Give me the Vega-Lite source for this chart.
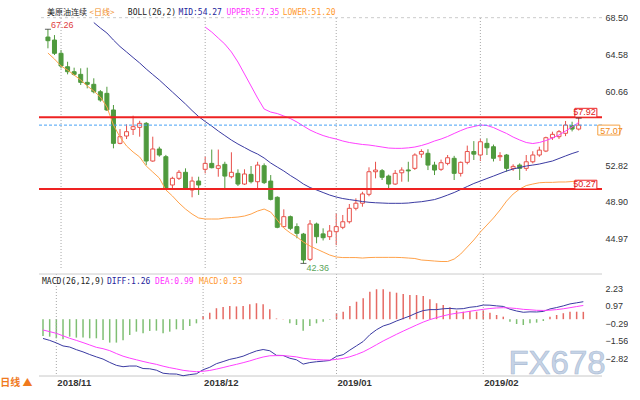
{
  "$schema": "https://vega.github.io/schema/vega-lite/v6.json",
  "padding": 0,
  "background": "white",
  "bounds": "flush",
  "spacing": 6,
  "config": {
    "view": {"stroke": null},
    "font": "Liberation Sans",
    "axis": {"labelFont": "Liberation Sans", "labelFontSize": 9, "labelColor": "#333333", "ticks": false, "domain": false, "grid": false}
  },
  "datasets": {
    "k": [
      {"i":0,"d":"2018-10-30","o":66.44,"h":67.26,"l":65.24,"c":66.05,"lo":64.74,"diff":-1.39,"dea":-0.78,"macd":-1.21},
      {"i":1,"d":"2018-10-31","o":66.12,"h":66.65,"l":64.53,"c":64.71,"lo":64.10,"diff":-1.53,"dea":-0.90,"macd":-1.26},
      {"i":2,"d":"2018-11-01","o":64.71,"h":65.06,"l":63.11,"c":63.36,"lo":63.36,"diff":-1.71,"dea":-1.02,"macd":-1.38},
      {"i":3,"d":"2018-11-02","o":63.28,"h":63.81,"l":62.47,"c":62.75,"lo":62.93,"diff":-1.93,"dea":-1.20,"macd":-1.45},
      {"i":4,"d":"2018-11-05","o":62.75,"h":63.18,"l":62.32,"c":62.47,"lo":62.40,"diff":-2.01,"dea":-1.38,"macd":-1.26},
      {"i":5,"d":"2018-11-06","o":62.47,"h":63.11,"l":61.34,"c":61.62,"lo":61.87,"diff":-2.20,"dea":-1.53,"macd":-1.33},
      {"i":6,"d":"2018-11-07","o":61.62,"h":63.18,"l":60.98,"c":61.41,"lo":61.23,"diff":-2.36,"dea":-1.69,"macd":-1.33},
      {"i":7,"d":"2018-11-08","o":61.41,"h":62.05,"l":60.45,"c":60.62,"lo":60.70,"mid":67.98,"diff":-2.55,"dea":-1.86,"macd":-1.38},
      {"i":8,"d":"2018-11-09","o":60.62,"h":60.80,"l":59.56,"c":59.74,"lo":60.06,"mid":67.40,"diff":-2.72,"dea":-2.03,"macd":-1.38},
      {"i":9,"d":"2018-11-12","o":60.45,"h":61.15,"l":58.57,"c":58.68,"lo":59.00,"mid":66.87,"diff":-2.88,"dea":-2.13,"macd":-1.50},
      {"i":10,"d":"2018-11-13","o":58.68,"h":59.21,"l":54.60,"c":55.13,"lo":57.08,"mid":66.12,"diff":-3.12,"dea":-2.27,"macd":-1.69},
      {"i":11,"d":"2018-11-14","o":55.13,"h":56.65,"l":55.03,"c":55.84,"lo":55.80,"mid":65.43,"diff":-3.33,"dea":-2.48,"macd":-1.69},
      {"i":12,"d":"2018-11-15","o":55.91,"h":57.15,"l":55.59,"c":56.37,"lo":54.85,"mid":64.85,"diff":-3.43,"dea":-2.67,"macd":-1.52},
      {"i":13,"d":"2018-11-16","o":56.62,"h":58.07,"l":56.02,"c":56.90,"lo":54.21,"mid":64.26,"diff":-3.38,"dea":-2.81,"macd":-1.14},
      {"i":14,"d":"2018-11-19","o":56.83,"h":57.53,"l":55.84,"c":57.26,"lo":53.68,"mid":63.68,"diff":-3.38,"dea":-2.93,"macd":-0.90},
      {"i":15,"d":"2018-11-20","o":57.26,"h":57.40,"l":52.82,"c":53.25,"lo":52.72,"mid":63.04,"diff":-3.56,"dea":-3.05,"macd":-1.02},
      {"i":16,"d":"2018-11-21","o":53.25,"h":55.84,"l":53.17,"c":54.53,"lo":52.08,"mid":62.45,"diff":-3.58,"dea":-3.16,"macd":-0.85},
      {"i":17,"d":"2018-11-22","o":54.53,"h":54.77,"l":53.71,"c":53.89,"lo":51.44,"mid":61.87,"diff":-3.68,"dea":-3.26,"macd":-0.83},
      {"i":18,"d":"2018-11-23","o":53.71,"h":53.90,"l":50.17,"c":50.35,"lo":50.17,"mid":61.23,"diff":-3.90,"dea":-3.39,"macd":-1.02},
      {"i":19,"d":"2018-11-26","o":50.70,"h":51.58,"l":50.17,"c":51.41,"lo":49.53,"mid":60.59,"diff":-3.95,"dea":-3.50,"macd":-0.90},
      {"i":20,"d":"2018-11-27","o":51.41,"h":52.29,"l":51.23,"c":52.05,"lo":48.78,"mid":59.95,"diff":-3.96,"dea":-3.59,"macd":-0.73},
      {"i":21,"d":"2018-11-28","o":52.05,"h":52.47,"l":50.17,"c":50.27,"lo":48.14,"mid":59.31,"diff":-4.08,"dea":-3.69,"macd":-0.78},
      {"i":22,"d":"2018-11-29","o":50.17,"h":51.58,"l":49.39,"c":51.12,"lo":47.61,"mid":58.62,"diff":-4.00,"dea":-3.75,"macd":-0.49},
      {"i":23,"d":"2018-11-30","o":51.12,"h":51.58,"l":49.64,"c":50.70,"lo":47.19,"mid":57.98,"diff":-3.94,"dea":-3.79,"macd":-0.30},
      {"i":24,"d":"2018-12-03","o":52.37,"h":53.71,"l":51.94,"c":53.00,"lo":47.08,"mid":57.45,"up":67.50,"diff":-3.65,"dea":-3.76,"macd":0.23},
      {"i":25,"d":"2018-12-04","o":53.00,"h":54.47,"l":52.47,"c":52.54,"lo":47.08,"mid":56.97,"up":66.97,"diff":-3.47,"dea":-3.70,"macd":0.47},
      {"i":26,"d":"2018-12-05","o":52.47,"h":54.47,"l":51.58,"c":52.75,"lo":47.08,"mid":56.44,"up":66.33,"diff":-3.21,"dea":-3.60,"macd":0.79},
      {"i":27,"d":"2018-12-06","o":52.90,"h":53.17,"l":50.17,"c":51.65,"lo":47.19,"mid":55.96,"up":65.69,"diff":-3.06,"dea":-3.49,"macd":0.87},
      {"i":28,"d":"2018-12-07","o":51.58,"h":54.18,"l":51.41,"c":52.05,"lo":47.24,"mid":55.48,"up":64.85,"diff":-2.90,"dea":-3.37,"macd":0.95},
      {"i":29,"d":"2018-12-10","o":51.94,"h":52.37,"l":50.59,"c":50.80,"lo":47.29,"mid":55.06,"up":63.78,"diff":-2.80,"dea":-3.26,"macd":0.92},
      {"i":30,"d":"2018-12-11","o":50.80,"h":52.37,"l":50.70,"c":51.87,"lo":47.40,"mid":54.69,"up":62.51,"diff":-2.67,"dea":-3.14,"macd":0.95},
      {"i":31,"d":"2018-12-12","o":51.83,"h":52.72,"l":50.87,"c":51.05,"lo":47.61,"mid":54.31,"up":61.23,"diff":-2.47,"dea":-3.01,"macd":1.08},
      {"i":32,"d":"2018-12-13","o":51.05,"h":53.17,"l":50.35,"c":52.82,"lo":47.93,"mid":53.99,"up":59.95,"diff":-2.29,"dea":-2.86,"macd":1.15},
      {"i":33,"d":"2018-12-14","o":52.75,"h":53.00,"l":50.80,"c":50.95,"lo":48.14,"mid":53.57,"up":58.78,"diff":-2.19,"dea":-2.73,"macd":1.08},
      {"i":34,"d":"2018-12-17","o":51.12,"h":51.76,"l":49.06,"c":49.17,"lo":47.82,"mid":53.04,"up":58.46,"diff":-2.28,"dea":-2.64,"macd":0.71},
      {"i":35,"d":"2018-12-18","o":49.39,"h":49.50,"l":46.10,"c":46.20,"lo":46.97,"mid":52.61,"up":58.30,"diff":-2.61,"dea":-2.63,"macd":0.05},
      {"i":36,"d":"2018-12-19","o":46.27,"h":48.11,"l":46.20,"c":47.33,"lo":46.12,"mid":52.19,"up":58.04,"diff":-2.62,"dea":-2.63,"macd":0.02},
      {"i":37,"d":"2018-12-20","o":47.33,"h":47.45,"l":45.90,"c":46.09,"lo":45.59,"mid":51.71,"up":57.77,"diff":-2.82,"dea":-2.67,"macd":-0.30},
      {"i":38,"d":"2018-12-21","o":46.27,"h":46.62,"l":45.03,"c":45.56,"lo":45.17,"mid":51.28,"up":57.40,"diff":-2.93,"dea":-2.72,"macd":-0.42},
      {"i":39,"d":"2018-12-24","o":45.48,"h":45.60,"l":42.36,"c":42.72,"lo":44.63,"mid":50.80,"up":56.97,"diff":-3.24,"dea":-2.82,"macd":-0.83},
      {"i":40,"d":"2018-12-26","o":42.79,"h":46.97,"l":42.60,"c":46.55,"lo":44.21,"mid":50.43,"up":56.55,"diff":-3.13,"dea":-2.88,"macd":-0.49},
      {"i":41,"d":"2018-12-27","o":46.55,"h":46.70,"l":44.50,"c":45.20,"lo":43.89,"mid":50.17,"up":56.23,"diff":-3.07,"dea":-2.92,"macd":-0.30},
      {"i":42,"d":"2018-12-28","o":45.50,"h":46.09,"l":44.80,"c":45.09,"lo":43.57,"mid":49.90,"up":55.96,"diff":-3.03,"dea":-2.94,"macd":-0.18},
      {"i":43,"d":"2018-12-31","o":45.20,"h":46.44,"l":44.85,"c":45.80,"lo":43.25,"mid":49.63,"up":55.75,"diff":-2.98,"dea":-2.95,"macd":-0.05},
      {"i":44,"d":"2019-01-02","o":45.73,"h":47.69,"l":44.30,"c":46.27,"lo":43.04,"mid":49.42,"up":55.59,"diff":-2.68,"dea":-2.90,"macd":0.43},
      {"i":45,"d":"2019-01-03","o":46.20,"h":47.51,"l":46.00,"c":46.79,"lo":42.98,"mid":49.26,"up":55.38,"diff":-2.56,"dea":-2.83,"macd":0.54},
      {"i":46,"d":"2019-01-04","o":46.79,"h":48.68,"l":46.60,"c":48.22,"lo":42.98,"mid":49.15,"up":55.22,"diff":-2.23,"dea":-2.71,"macd":0.95},
      {"i":47,"d":"2019-01-07","o":48.22,"h":49.28,"l":48.00,"c":48.76,"lo":42.98,"mid":49.05,"up":55.11,"diff":-1.92,"dea":-2.55,"macd":1.26},
      {"i":48,"d":"2019-01-08","o":48.76,"h":49.98,"l":48.39,"c":49.75,"lo":42.93,"mid":48.94,"up":55.01,"diff":-1.61,"dea":-2.36,"macd":1.51},
      {"i":49,"d":"2019-01-09","o":49.71,"h":52.58,"l":49.50,"c":52.11,"lo":42.98,"mid":48.86,"up":54.95,"diff":-1.12,"dea":-2.11,"macd":1.98},
      {"i":50,"d":"2019-01-10","o":52.11,"h":53.17,"l":51.41,"c":52.29,"lo":43.00,"mid":48.81,"up":54.85,"diff":-0.76,"dea":-1.84,"macd":2.16},
      {"i":51,"d":"2019-01-11","o":52.22,"h":52.40,"l":51.23,"c":51.52,"lo":43.00,"mid":48.78,"up":54.74,"diff":-0.49,"dea":-1.57,"macd":2.16},
      {"i":52,"d":"2019-01-14","o":51.65,"h":51.80,"l":50.35,"c":50.80,"lo":43.00,"mid":48.75,"up":54.63,"diff":-0.34,"dea":-1.33,"macd":1.98},
      {"i":53,"d":"2019-01-15","o":50.80,"h":52.29,"l":50.70,"c":51.94,"lo":43.00,"mid":48.75,"up":54.60,"diff":-0.13,"dea":-1.09,"macd":1.91},
      {"i":54,"d":"2019-01-16","o":52.00,"h":52.58,"l":51.05,"c":52.29,"lo":42.98,"mid":48.75,"up":54.60,"diff":0.05,"dea":-0.86,"macd":1.82},
      {"i":55,"d":"2019-01-17","o":52.30,"h":53.17,"l":51.05,"c":52.20,"lo":42.93,"mid":48.78,"up":54.65,"diff":0.23,"dea":-0.64,"macd":1.74},
      {"i":56,"d":"2019-01-18","o":52.47,"h":54.07,"l":52.30,"c":53.89,"lo":42.88,"mid":48.86,"up":54.74,"diff":0.45,"dea":-0.42,"macd":1.74},
      {"i":57,"d":"2019-01-21","o":53.98,"h":54.50,"l":53.60,"c":54.26,"lo":42.72,"mid":48.92,"up":54.90,"diff":0.62,"dea":-0.21,"macd":1.67},
      {"i":58,"d":"2019-01-22","o":54.07,"h":54.50,"l":52.29,"c":52.82,"lo":42.67,"mid":49.03,"up":55.11,"diff":0.69,"dea":-0.03,"macd":1.44},
      {"i":59,"d":"2019-01-23","o":52.82,"h":53.17,"l":51.76,"c":52.29,"lo":42.61,"mid":49.15,"up":55.38,"diff":0.69,"dea":0.11,"macd":1.15},
      {"i":60,"d":"2019-01-24","o":52.37,"h":53.40,"l":52.20,"c":53.07,"lo":42.56,"mid":49.37,"up":55.59,"diff":0.75,"dea":0.24,"macd":1.03},
      {"i":61,"d":"2019-01-25","o":53.00,"h":53.89,"l":52.80,"c":53.60,"lo":42.56,"mid":49.63,"up":55.86,"diff":0.78,"dea":0.35,"macd":0.86},
      {"i":62,"d":"2019-01-28","o":53.54,"h":53.80,"l":51.23,"c":51.94,"lo":42.82,"mid":49.90,"up":56.18,"diff":0.74,"dea":0.43,"macd":0.62},
      {"i":63,"d":"2019-01-29","o":51.94,"h":53.20,"l":51.60,"c":53.11,"lo":43.36,"mid":50.22,"up":56.49,"diff":0.76,"dea":0.49,"macd":0.54},
      {"i":64,"d":"2019-01-30","o":53.11,"h":54.89,"l":52.90,"c":54.26,"lo":44.10,"mid":50.54,"up":56.76,"diff":0.86,"dea":0.57,"macd":0.59},
      {"i":65,"d":"2019-01-31","o":54.26,"h":55.37,"l":53.36,"c":53.98,"lo":44.85,"mid":50.86,"up":56.92,"diff":0.91,"dea":0.64,"macd":0.54},
      {"i":66,"d":"2019-02-01","o":53.89,"h":55.59,"l":53.25,"c":55.30,"lo":45.70,"mid":51.12,"up":57.08,"diff":1.02,"dea":0.71,"macd":0.62},
      {"i":67,"d":"2019-02-04","o":55.13,"h":55.67,"l":53.89,"c":54.66,"lo":46.44,"mid":51.39,"up":57.03,"diff":1.01,"dea":0.77,"macd":0.47},
      {"i":68,"d":"2019-02-05","o":54.77,"h":55.00,"l":53.20,"c":53.54,"lo":47.19,"mid":51.65,"up":56.81,"diff":0.96,"dea":0.81,"macd":0.30},
      {"i":69,"d":"2019-02-06","o":53.71,"h":54.19,"l":53.25,"c":53.82,"lo":48.04,"mid":51.92,"up":56.49,"diff":0.92,"dea":0.83,"macd":0.18},
      {"i":70,"d":"2019-02-07","o":53.89,"h":54.00,"l":52.11,"c":52.47,"lo":48.99,"mid":52.19,"up":56.18,"diff":0.72,"dea":0.81,"macd":-0.18},
      {"i":71,"d":"2019-02-08","o":52.47,"h":52.90,"l":52.20,"c":52.68,"lo":49.74,"mid":52.40,"up":55.80,"diff":0.59,"dea":0.77,"macd":-0.35},
      {"i":72,"d":"2019-02-11","o":52.82,"h":53.00,"l":51.23,"c":52.47,"lo":50.27,"mid":52.56,"up":55.49,"diff":0.50,"dea":0.71,"macd":-0.42},
      {"i":73,"d":"2019-02-12","o":52.47,"h":53.89,"l":52.20,"c":53.17,"lo":50.64,"mid":52.72,"up":55.22,"diff":0.53,"dea":0.68,"macd":-0.30},
      {"i":74,"d":"2019-02-13","o":53.17,"h":54.29,"l":53.00,"c":53.89,"lo":50.80,"mid":52.82,"up":55.11,"diff":0.52,"dea":0.64,"macd":-0.25},
      {"i":75,"d":"2019-02-14","o":53.89,"h":54.77,"l":53.70,"c":54.41,"lo":50.94,"mid":52.93,"up":55.22,"diff":0.56,"dea":0.63,"macd":-0.13},
      {"i":76,"d":"2019-02-15","o":54.31,"h":55.84,"l":54.20,"c":55.73,"lo":50.98,"mid":53.09,"up":55.43,"diff":0.74,"dea":0.65,"macd":0.18},
      {"i":77,"d":"2019-02-18","o":55.73,"h":56.37,"l":55.50,"c":56.09,"lo":50.98,"mid":53.25,"up":55.70,"diff":0.84,"dea":0.69,"macd":0.30},
      {"i":78,"d":"2019-02-19","o":55.84,"h":56.55,"l":55.60,"c":56.37,"lo":51.02,"mid":53.52,"up":56.02,"diff":0.96,"dea":0.75,"macd":0.43},
      {"i":79,"d":"2019-02-20","o":56.20,"h":57.51,"l":55.90,"c":57.08,"lo":51.02,"mid":53.79,"up":56.44,"diff":1.10,"dea":0.83,"macd":0.54},
      {"i":80,"d":"2019-02-21","o":57.01,"h":57.43,"l":56.40,"c":56.65,"lo":51.07,"mid":54.05,"up":56.87,"diff":1.18,"dea":0.91,"macd":0.54},
      {"i":81,"d":"2019-02-22","o":56.65,"h":57.81,"l":56.50,"c":57.07,"lo":51.20,"mid":54.27,"up":57.35,"diff":1.26,"dea":0.99,"macd":0.53}
    ],
    "months": [
      {"i":2,"m":"2018/11"},
      {"i":24,"m":"2018/12"},
      {"i":44,"m":"2019/01"},
      {"i":66,"m":"2019/02"}
    ],
    "levels": [
      {"v":57.92},
      {"v":50.27}
    ],
    "one": [{"n":1}]
  },
  "vconcat": [
    {
      "width": 563,
      "height": 268,
      "data": {"name": "k"},
      "layer": [
        {
          "layer": [
            {
              "mark": {"type": "rule", "strokeWidth": 1},
              "encoding": {
                "x": {"field": "i", "type": "quantitative", "title": null, "scale": {"domain": [-0.6, 83.8], "nice": false, "zero": false}, "axis": null},
                "y": {"field": "l", "type": "quantitative", "title": null, "scale": {"domain": [41.87, 70.38], "nice": false, "zero": false},
                      "axis": {"orient": "left", "values": [44.97, 48.9, 52.82, 56.74, 60.66, 64.58, 68.5], "format": ".2f", "labelPadding": 2, "minExtent": 42, "maxExtent": 42, "title": null}},
                "y2": {"field": "h"},
                "color": {"condition": {"test": "datum.c >= datum.o", "value": "#e8504a"}, "value": "#4f9a3d"}
              }
            },
            {
              "data": {"name": "months"},
              "mark": {"type": "rule", "color": "#a8a8a8", "strokeDash": [1, 2], "strokeWidth": 1},
              "encoding": {
                "x": {"field": "i", "type": "quantitative", "title": null, "axis": null},
                "y": {"datum": 41.87, "axis": null},
                "y2": {"datum": 68.5}
              }
            },
            {
              "data": {"name": "one"},
              "mark": {"type": "rule", "color": "#cccccc", "strokeDash": [3, 3], "strokeWidth": 1},
              "encoding": {
                "y": {"datum": 68.5, "axis": null}
              }
            },
            {
              "mark": {"type": "bar", "orient": "vertical", "size": 4, "strokeWidth": 1},
              "encoding": {
                "x": {"field": "i", "type": "quantitative", "title": null, "axis": null},
                "y": {"field": "o", "type": "quantitative", "title": null, "axis": null},
                "y2": {"field": "c"},
                "fill": {"condition": {"test": "datum.c >= datum.o", "value": "#ffffff"}, "value": "#4f9a3d"},
                "stroke": {"condition": {"test": "datum.c >= datum.o", "value": "#e8504a"}, "value": "#4f9a3d"}
              }
            },
            {
              "mark": {"type": "line", "color": "#ffa24a", "strokeWidth": 1},
              "encoding": {
                "x": {"field": "i", "type": "quantitative", "title": null, "axis": null},
                "y": {"field": "lo", "type": "quantitative", "title": null, "axis": null}
              }
            },
            {
              "mark": {"type": "line", "color": "#3a3aa2", "strokeWidth": 1},
              "encoding": {
                "x": {"field": "i", "type": "quantitative", "title": null, "axis": null},
                "y": {"field": "mid", "type": "quantitative", "title": null, "axis": null}
              }
            },
            {
              "mark": {"type": "line", "color": "#ff40ff", "strokeWidth": 1},
              "encoding": {
                "x": {"field": "i", "type": "quantitative", "title": null, "axis": null},
                "y": {"field": "up", "type": "quantitative", "title": null, "axis": null}
              }
            },
            {
              "data": {"name": "levels"},
              "mark": {"type": "rule", "color": "#ee2222", "strokeWidth": 2},
              "encoding": {
                "y": {"field": "v", "type": "quantitative", "title": null, "axis": null}
              }
            },
            {
              "transform": [{"filter": "datum.i == 81"}],
              "mark": {"type": "rule", "color": "#45a0f5", "strokeDash": [3, 2], "strokeWidth": 1},
              "encoding": {
                "y": {"field": "c", "type": "quantitative", "title": null, "axis": null}
              }
            },
            {
              "data": {"name": "levels"},
              "mark": {"type": "point", "shape": "M-1,-0.8H1V0H-1Z", "size": 484, "filled": true, "fill": "#ffffff", "stroke": "#ee2222", "strokeWidth": 1, "opacity": 1},
              "encoding": {
                "x": {"datum": 82.1, "axis": null},
                "y": {"field": "v", "type": "quantitative", "title": null, "axis": null}
              }
            },
            {
              "data": {"name": "levels"},
              "mark": {"type": "text", "align": "right", "baseline": "alphabetic", "dy": -2, "color": "#e02020", "font": "Liberation Sans", "fontSize": 9},
              "encoding": {
                "x": {"datum": 83.6, "axis": null},
                "y": {"field": "v", "type": "quantitative", "title": null, "axis": null},
                "text": {"field": "v", "type": "quantitative", "format": ".2f"}
              }
            },
            {
              "transform": [{"joinaggregate": [{"op": "max", "field": "h", "as": "mh"}]}, {"filter": "datum.h == datum.mh || datum.i == 81"}],
              "mark": {"type": "tick", "orient": "horizontal", "size": 6, "thickness": 1, "color": "#222222"},
              "encoding": {
                "x": {"field": "i", "type": "quantitative", "title": null, "axis": null},
                "y": {"field": "h", "type": "quantitative", "title": null, "axis": null}
              }
            },
            {
              "transform": [{"joinaggregate": [{"op": "min", "field": "l", "as": "ml"}]}, {"filter": "datum.l == datum.ml"}],
              "mark": {"type": "tick", "orient": "horizontal", "size": 6, "thickness": 1, "color": "#222222"},
              "encoding": {
                "x": {"field": "i", "type": "quantitative", "title": null, "axis": null},
                "y": {"field": "l", "type": "quantitative", "title": null, "axis": null}
              }
            },
            {
              "transform": [{"joinaggregate": [{"op": "max", "field": "h", "as": "mh"}]}, {"filter": "datum.h == datum.mh"}],
              "mark": {"type": "text", "align": "left", "baseline": "alphabetic", "dx": 3, "dy": -1, "color": "#e03c3c", "font": "Liberation Sans", "fontSize": 9},
              "encoding": {
                "x": {"field": "i", "type": "quantitative", "title": null, "axis": null},
                "y": {"field": "h", "type": "quantitative", "title": null, "axis": null},
                "text": {"field": "h", "type": "quantitative", "format": ".2f"}
              }
            },
            {
              "transform": [{"joinaggregate": [{"op": "min", "field": "l", "as": "ml"}]}, {"filter": "datum.l == datum.ml"}],
              "mark": {"type": "text", "align": "left", "baseline": "top", "dx": 3, "dy": 1, "color": "#5aa55a", "font": "Liberation Sans", "fontSize": 9},
              "encoding": {
                "x": {"field": "i", "type": "quantitative", "title": null, "axis": null},
                "y": {"field": "l", "type": "quantitative", "title": null, "axis": null},
                "text": {"field": "l", "type": "quantitative", "format": ".2f"}
              }
            },
            {
              "transform": [{"filter": "datum.i == 81"}],
              "mark": {"type": "point", "shape": "M-1,0H1V0.9H-1Z", "size": 484, "filled": true, "fill": "#ffffff", "stroke": "#f5a040", "strokeWidth": 1, "opacity": 1},
              "encoding": {
                "x": {"datum": 85.6, "axis": null},
                "y": {"field": "c", "type": "quantitative", "title": null, "axis": null}
              }
            },
            {
              "transform": [{"filter": "datum.i == 81"}],
              "mark": {"type": "text", "align": "left", "baseline": "top", "dy": 1.5, "color": "#f08a20", "font": "Liberation Sans", "fontSize": 9},
              "encoding": {
                "x": {"datum": 84.3, "axis": null},
                "y": {"field": "c", "type": "quantitative", "title": null, "axis": null},
                "text": {"field": "c", "type": "quantitative", "format": ".2f"}
              }
            },
            {
              "data": {"name": "one"},
              "mark": {"type": "text", "align": "left", "baseline": "middle", "color": "#222222", "font": "Noto Sans CJK SC", "fontSize": 8},
              "encoding": {"x": {"datum": -0.15, "axis": null}, "y": {"datum": 69.0, "axis": null}, "text": {"value": "美原油连续"}}
            },
            {
              "data": {"name": "one"},
              "mark": {"type": "text", "align": "left", "baseline": "middle", "color": "#f08a24", "font": "Noto Sans CJK SC", "fontSize": 8},
              "encoding": {"x": {"datum": 6.35, "axis": null}, "y": {"datum": 69.0, "axis": null}, "text": {"value": "<日线>"}}
            },
            {
              "data": {"name": "one"},
              "mark": {"type": "text", "align": "left", "baseline": "middle", "color": "#222222", "font": "DejaVu Sans Mono", "fontSize": 8},
              "encoding": {"x": {"datum": 12.2, "axis": null}, "y": {"datum": 69.0, "axis": null}, "text": {"value": "BOLL(26,2)"}}
            },
            {
              "data": {"name": "one"},
              "mark": {"type": "text", "align": "left", "baseline": "middle", "color": "#23239b", "font": "DejaVu Sans Mono", "fontSize": 8},
              "encoding": {"x": {"datum": 19.94, "axis": null}, "y": {"datum": 69.0, "axis": null}, "text": {"value": "MID:54.27"}}
            },
            {
              "data": {"name": "one"},
              "mark": {"type": "text", "align": "left", "baseline": "middle", "color": "#ff33ff", "font": "DejaVu Sans Mono", "fontSize": 8},
              "encoding": {"x": {"datum": 27.24, "axis": null}, "y": {"datum": 69.0, "axis": null}, "text": {"value": "UPPER:57.35"}}
            },
            {
              "data": {"name": "one"},
              "mark": {"type": "text", "align": "left", "baseline": "middle", "color": "#ff9a30", "font": "DejaVu Sans Mono", "fontSize": 8},
              "encoding": {"x": {"datum": 35.83, "axis": null}, "y": {"datum": 69.0, "axis": null}, "text": {"value": "LOWER:51.20"}}
            }
          ]
        },
        {
          "mark": {"type": "rule", "opacity": 0},
          "encoding": {
            "y": {"field": "h", "type": "quantitative", "title": null, "scale": {"domain": [41.87, 70.38], "nice": false, "zero": false},
                  "axis": {"orient": "right", "values": [44.97, 48.9, 52.82, 60.66, 64.58, 68.5], "format": ".2f", "labelPadding": 3, "title": null}}
          }
        }
      ],
      "resolve": {"scale": {"y": "independent"}}
    },
    {
      "width": 563,
      "height": 102,
      "data": {"name": "k"},
      "layer": [
        {
          "layer": [
            {
              "mark": {"type": "rule", "strokeWidth": 1.5},
              "encoding": {
                "x": {"field": "i", "type": "quantitative", "title": null, "scale": {"domain": [-0.6, 83.8], "nice": false, "zero": false}, "axis": null},
                "y": {"field": "macd", "type": "quantitative", "title": null, "scale": {"domain": [-4.1, 3.26], "nice": false, "zero": false},
                      "axis": {"orient": "left", "values": [-2.82, -1.56, -0.29, 0.97, 2.23], "format": ".2f", "labelPadding": 2, "minExtent": 42, "maxExtent": 42, "title": null}},
                "y2": {"datum": 0},
                "color": {"condition": {"test": "datum.macd >= 0", "value": "#e66a64"}, "value": "#7fbf73"}
              }
            },
            {
              "data": {"name": "months"},
              "mark": {"type": "rule", "color": "#a8a8a8", "strokeDash": [1, 2], "strokeWidth": 1},
              "encoding": {
                "x": {"field": "i", "type": "quantitative", "title": null, "axis": null}
              }
            },
            {
              "data": {"name": "one"},
              "mark": {"type": "rule", "color": "#c8c8c8", "strokeWidth": 1},
              "encoding": {
                "y": {"datum": -4.1, "axis": null}
              }
            },
            {
              "data": {"name": "months"},
              "mark": {"type": "text", "align": "left", "baseline": "top", "dx": 1, "dy": 2, "color": "#333333", "font": "Liberation Sans", "fontSize": 9.5, "fontWeight": "bold"},
              "encoding": {
                "x": {"field": "i", "type": "quantitative", "title": null, "axis": null},
                "y": {"datum": -4.1, "axis": null},
                "text": {"field": "m", "type": "nominal"}
              }
            },
            {
              "mark": {"type": "line", "color": "#3a3aa2", "strokeWidth": 1},
              "encoding": {
                "x": {"field": "i", "type": "quantitative", "title": null, "axis": null},
                "y": {"field": "diff", "type": "quantitative", "title": null, "axis": null}
              }
            },
            {
              "mark": {"type": "line", "color": "#ff40ff", "strokeWidth": 1},
              "encoding": {
                "x": {"field": "i", "type": "quantitative", "title": null, "axis": null},
                "y": {"field": "dea", "type": "quantitative", "title": null, "axis": null}
              }
            },
            {
              "data": {"name": "one"},
              "mark": {"type": "text", "align": "left", "baseline": "middle", "color": "#222222", "font": "DejaVu Sans Mono", "fontSize": 8},
              "encoding": {"x": {"datum": -0.15, "axis": null}, "y": {"datum": 2.68, "axis": null}, "text": {"value": "MACD(26,12,9)"}}
            },
            {
              "data": {"name": "one"},
              "mark": {"type": "text", "align": "left", "baseline": "middle", "color": "#23239b", "font": "DejaVu Sans Mono", "fontSize": 8},
              "encoding": {"x": {"datum": 9.6, "axis": null}, "y": {"datum": 2.68, "axis": null}, "text": {"value": "DIFF:1.26"}}
            },
            {
              "data": {"name": "one"},
              "mark": {"type": "text", "align": "left", "baseline": "middle", "color": "#ff33ff", "font": "DejaVu Sans Mono", "fontSize": 8},
              "encoding": {"x": {"datum": 16.8, "axis": null}, "y": {"datum": 2.68, "axis": null}, "text": {"value": "DEA:0.99"}}
            },
            {
              "data": {"name": "one"},
              "mark": {"type": "text", "align": "left", "baseline": "middle", "color": "#ff9a30", "font": "DejaVu Sans Mono", "fontSize": 8},
              "encoding": {"x": {"datum": 23.4, "axis": null}, "y": {"datum": 2.68, "axis": null}, "text": {"value": "MACD:0.53"}}
            },
            {
              "data": {"name": "one"},
              "mark": {"type": "text", "align": "center", "baseline": "middle", "color": "#c6d3e6", "stroke": "#a9bbd4", "strokeWidth": 0.6, "font": "Liberation Sans", "fontSize": 33},
              "encoding": {"x": {"datum": 77.06, "axis": null}, "y": {"datum": -3.2, "axis": null}, "text": {"value": "FX678"}}
            },
            {
              "data": {"name": "one"},
              "mark": {"type": "text", "align": "left", "baseline": "middle", "color": "#f07a1e", "font": "Noto Sans CJK SC", "fontSize": 10, "fontWeight": "bold"},
              "encoding": {"x": {"datum": -6.4, "axis": null}, "y": {"datum": -4.6, "axis": null}, "text": {"value": "日线 ▲"}}
            }
          ]
        },
        {
          "data": {"name": "one"},
          "mark": {"type": "rule", "color": "#cccccc", "strokeWidth": 1},
          "encoding": {
            "y": {"datum": 3.26, "scale": {"domain": [-4.1, 3.26], "nice": false, "zero": false},
                  "axis": {"orient": "right", "values": [-2.82, -1.56, -0.29, 0.97, 2.23], "format": ".2f", "labelPadding": 3, "title": null}}
          }
        }
      ],
      "resolve": {"scale": {"y": "independent"}}
    }
  ]
}
